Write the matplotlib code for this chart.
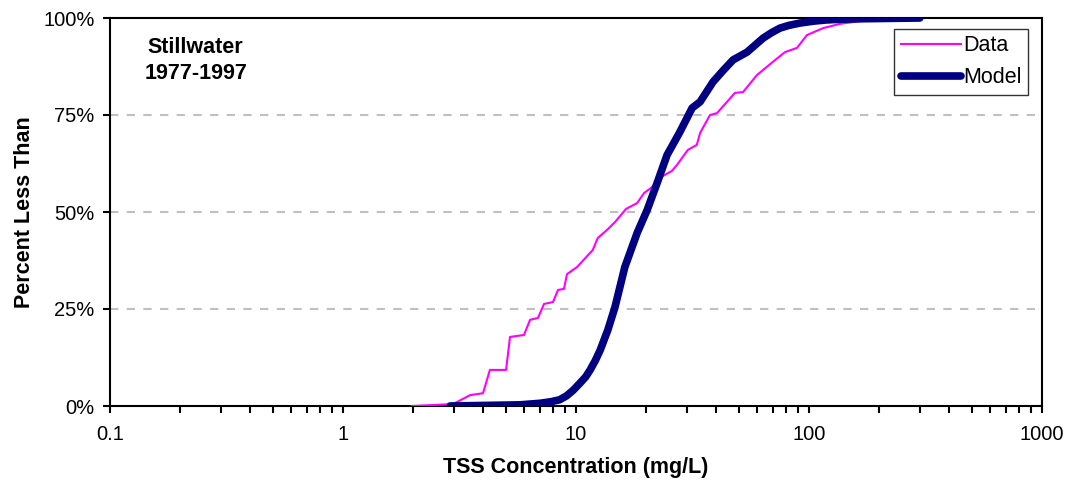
import matplotlib.pyplot as plt
import numpy as np
from matplotlib.ticker import PercentFormatter, LogLocator, FixedLocator, FixedFormatter

plt.rcParams['font.family'] = ['Liberation Sans', 'DejaVu Sans']

# observed TSS (mg/L) vs cumulative fraction
data_x = [1.98, 2.97, 3.51, 3.99, 4.27, 5.01, 5.21, 5.98, 6.35, 6.87, 7.29, 7.97,
          8.37, 8.88, 9.15, 10.1, 11.8, 12.4, 13.6, 14.7, 16.4, 18.3, 19.6, 21.2,
          22.9, 25.8, 27.1, 30.2, 33.0, 34.1, 37.6, 40.3, 48.1, 52.1, 59.8, 70.0,
          78.8, 88.8, 98.0, 115, 136, 166, 185]
data_y = [0.0, 0.005, 0.028, 0.033, 0.093, 0.093, 0.178, 0.183, 0.222, 0.227, 0.263, 0.268,
          0.299, 0.302, 0.340, 0.358, 0.402, 0.433, 0.454, 0.474, 0.508, 0.523, 0.549, 0.564,
          0.588, 0.606, 0.621, 0.660, 0.673, 0.704, 0.750, 0.755, 0.807, 0.809, 0.853, 0.887,
          0.912, 0.923, 0.956, 0.974, 0.985, 0.992, 1.0]

# model
model_x = [2.88, 5.75, 7.0, 7.8, 8.5, 9.1, 9.7, 10.4, 11.0, 11.5, 12.1, 12.7, 13.7, 14.7,
           16.2, 18.3, 20.2, 22.3, 24.6, 27.9, 31.5, 34.1, 38.7, 43.0, 47.2, 54.2, 63.5,
           69.0, 75.1, 82.0, 91.5, 105, 119, 140, 166, 299]
model_y = [0.0, 0.003, 0.007, 0.011, 0.016, 0.026, 0.040, 0.059, 0.075, 0.093, 0.117, 0.144,
           0.196, 0.255, 0.358, 0.446, 0.505, 0.575, 0.647, 0.706, 0.768, 0.784, 0.835, 0.866,
           0.892, 0.912, 0.948, 0.962, 0.974, 0.981, 0.987, 0.992, 0.995, 0.997, 0.998, 1.0]

fig = plt.figure(figsize=(10.71, 4.88), dpi=100)
ax = fig.add_axes([110/1071, 1 - 406/488, 932/1071, 388/488])

ax.plot(data_x, data_y, color='#ff00ff', lw=1.5, label='Data', zorder=3)
ax.plot(model_x, model_y, color='#000080', lw=5.5, label='Model', zorder=4,
        solid_joinstyle='round', solid_capstyle='round')

ax.set_xscale('log')
ax.set_xlim(0.1, 1000)
ax.set_ylim(0, 1)
ax.xaxis.set_major_locator(FixedLocator([0.1, 1, 10, 100, 1000]))
ax.xaxis.set_major_formatter(FixedFormatter(['0.1', '1', '10', '100', '1000']))
ax.xaxis.set_minor_locator(LogLocator(base=10, subs=np.arange(2, 10), numticks=20))
ax.set_yticks([0, 0.25, 0.5, 0.75, 1.0])
ax.yaxis.set_major_formatter(PercentFormatter(1.0, decimals=0))

for y in [0.25, 0.5, 0.75]:
    ax.axhline(y, color='#c0c0c0', lw=1.5, ls=(0, (4, 4)), zorder=1)

for s in ax.spines.values():
    s.set_linewidth(1.5)
ax.tick_params(which='both', direction='out', width=1.5, labelsize=14.5, pad=6)
ax.tick_params(which='major', length=5)
ax.tick_params(which='minor', length=5)
ax.tick_params(axis='x', pad=9)

ax.set_xlabel('TSS Concentration (mg/L)', fontsize=15.5, fontweight='bold', labelpad=9)
ax.set_ylabel('Percent Less Than', fontsize=15.5, fontweight='bold', labelpad=6)

ax.text(0.092, 0.95, 'Stillwater\n1977-1997', transform=ax.transAxes, ha='center', va='top',
        fontsize=15.5, fontweight='bold', linespacing=1.3)

leg = ax.legend(loc='upper right', bbox_to_anchor=((1028 - 110)/932, 1 - 11/388),
                fontsize=15.5, frameon=True, fancybox=False, edgecolor='black',
                borderpad=0.3, borderaxespad=0, handlelength=2.8, handletextpad=0.1,
                labelspacing=0.5)
leg.get_frame().set_linewidth(1.0)

plt.savefig('out.png', dpi=100)
plt.close()
